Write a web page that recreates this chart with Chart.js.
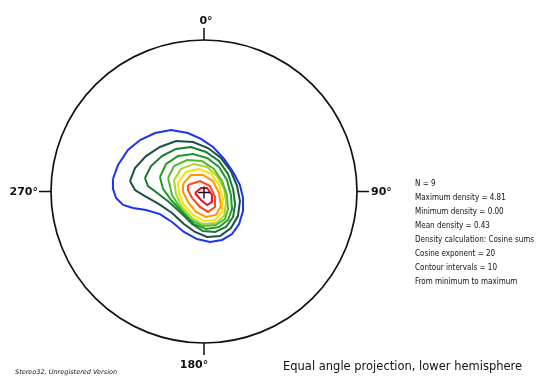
<!DOCTYPE html>
<html>
<head>
<meta charset="utf-8">
<script src="https://cdn.jsdelivr.net/npm/chart.js@4"></script>
<style>
  html, body { margin: 0; padding: 0; background: #fff; }
  #wrap { width: 557px; height: 381px; }
</style>
</head>
<body>
<div id="wrap"><canvas id="net" width="557" height="381"></canvas></div>
<script>
// contour lines, in percent of the net radius (x = east, y = north)
const contour1 = [[-59.5,8.3],[-56.2,17.5],[-49.7,27.4],[-41.8,34.0],[-32.0,38.6],[-21.6,40.6],[-10.5,38.6],[-2.0,34.7],[5.9,29.4],[13.1,21.5],[19.0,12.9],[23.5,4.3],[25.5,-4.3],[25.5,-12.9],[22.9,-21.5],[18.3,-28.1],[11.8,-32.0],[3.9,-33.3],[-4.6,-31.4],[-13.1,-26.7],[-20.9,-20.1],[-28.8,-14.9],[-37.9,-12.2],[-46.4,-10.9],[-52.9,-8.9],[-57.5,-4.3],[-59.5,1.7]];
const contour2 = [[-48.4,6.9],[-45.1,15.5],[-37.9,23.4],[-28.8,29.4],[-18.3,33.3],[-7.2,32.7],[2.6,28.7],[11.1,22.1],[17.6,13.5],[21.6,3.6],[23.5,-6.3],[22.2,-16.2],[17.6,-24.1],[10.5,-29.4],[2.0,-30.0],[-5.9,-26.7],[-13.1,-21.5],[-20.9,-14.2],[-29.4,-8.3],[-38.6,-3.0],[-45.1,1.0]];
const contour3 = [[-38.6,8.9],[-34.6,16.8],[-27.5,23.4],[-18.3,28.1],[-8.5,29.4],[1.3,26.1],[9.8,20.1],[15.7,11.6],[19.0,1.7],[20.3,-8.3],[19.0,-16.8],[14.4,-23.4],[7.2,-26.7],[-0.7,-26.1],[-7.8,-21.5],[-15.0,-14.2],[-22.9,-6.9],[-31.4,-0.3],[-36.6,3.6]];
const contour4 = [[-28.8,9.6],[-24.8,18.2],[-17.0,23.4],[-7.2,24.8],[2.0,22.1],[9.8,16.2],[15.0,7.6],[17.6,-2.3],[18.3,-11.6],[15.7,-18.8],[9.8,-23.4],[1.3,-24.8],[-6.5,-21.5],[-13.7,-14.2],[-20.9,-6.3],[-26.8,1.7]];
const contour5 = [[-23.5,8.9],[-19.6,16.8],[-11.1,20.8],[-1.3,20.1],[6.5,14.9],[11.8,6.9],[15.0,-2.3],[15.7,-11.6],[13.7,-18.2],[7.8,-22.1],[-0.7,-22.8],[-8.5,-18.8],[-15.0,-11.6],[-20.9,-2.3]];
const contour6 = [[-19.6,7.6],[-15.0,14.9],[-6.5,18.2],[2.0,16.2],[8.5,10.2],[13.1,1.7],[14.4,-7.6],[13.1,-16.2],[7.8,-20.8],[-0.7,-21.5],[-7.8,-17.5],[-14.4,-10.2],[-18.3,-1.7]];
const contour7 = [[-17.0,5.6],[-11.8,12.9],[-3.3,14.9],[4.6,11.6],[9.8,4.3],[12.4,-5.0],[11.8,-13.5],[7.2,-18.8],[0.0,-19.5],[-7.2,-15.5],[-13.1,-8.9],[-16.3,-1.7]];
const contour8 = [[-13.7,5.0],[-8.5,10.9],[-0.7,10.9],[5.9,6.9],[9.8,-1.0],[11.1,-9.6],[7.8,-15.5],[1.3,-16.8],[-5.2,-13.5],[-10.5,-6.9],[-13.7,-0.3]];
const contour9 = [[-10.5,4.3],[-2.6,6.9],[3.9,3.6],[7.2,-3.6],[7.2,-10.2],[2.6,-13.5],[-2.6,-10.2],[-7.8,-4.3],[-10.5,1.0]];
const contour10 = [[-5.9,-1.0],[-2.0,2.3],[2.0,2.3],[5.2,-2.3],[5.2,-6.9],[2.0,-8.9],[-2.0,-5.6]];

const contours = [contour1, contour2, contour3, contour4, contour5, contour6, contour7, contour8, contour9, contour10];
const contourColors = ['#1a34f0', '#1d4f47', '#177a2e', '#23982a', '#4fba2b', '#a9d62c', '#f6e200', '#ff9800', '#ff4418', '#e0122c'];

const directionLabels = ['0°', '90°', '180°', '270°'];
const statLines = [
    'N = 9',
    'Maximum density = 4.81',
    'Minimum density = 0.00',
    'Mean density = 0.43',
    'Density calculation: Cosine sums',
    'Cosine exponent = 20',
    'Contour intervals = 10',
    'From minimum to maximum'
];
const projectionText = 'Equal angle projection, lower hemisphere';
const versionText = 'Stereo32, Unregistered Version';

// primitive circle, N/E/S/W ticks, centre cross and the text block
const stereonetFrame = {
    id: 'stereonetFrame',
    afterDatasetsDraw(chart) {
        const ctx = chart.ctx;
        const xs = chart.scales.x, ys = chart.scales.y;
        const cx = xs.getPixelForValue(0), cy = ys.getPixelForValue(0);
        const rx = xs.getPixelForValue(100) - cx;
        const ry = cy - ys.getPixelForValue(100);
        ctx.save();
        ctx.strokeStyle = '#111';
        ctx.lineWidth = 1.7;
        ctx.beginPath();
        ctx.ellipse(cx, cy, rx, ry, 0, 0, Math.PI * 2);
        ctx.stroke();

        const tick = 12;
        ctx.lineWidth = 1.5;
        ctx.beginPath();
        ctx.moveTo(cx, cy - ry); ctx.lineTo(cx, cy - ry - tick);
        ctx.moveTo(cx + rx, cy); ctx.lineTo(cx + rx + tick, cy);
        ctx.moveTo(cx, cy + ry); ctx.lineTo(cx, cy + ry + tick);
        ctx.moveTo(cx - rx, cy); ctx.lineTo(cx - rx - tick, cy);
        ctx.stroke();

        // centre cross
        ctx.lineWidth = 1.4;
        ctx.beginPath();
        ctx.moveTo(cx - 6, cy + 1); ctx.lineTo(cx + 6, cy + 1);
        ctx.moveTo(cx, cy - 5); ctx.lineTo(cx, cy + 7);
        ctx.stroke();

        ctx.fillStyle = '#111';
        ctx.font = 'bold 11px "DejaVu Sans"';
        ctx.textBaseline = 'middle';
        ctx.textAlign = 'center';
        ctx.fillText(directionLabels[0], cx + 2, cy - ry - tick - 7);
        ctx.fillText(directionLabels[2], cx - 10, cy + ry + tick + 10);
        ctx.textAlign = 'left';
        ctx.fillText(directionLabels[1], cx + rx + tick + 2, cy + 1);
        ctx.textAlign = 'right';
        ctx.fillText(directionLabels[3], cx - rx - tick - 1, cy + 1);

        ctx.textAlign = 'left';
        ctx.font = '8px "DejaVu Sans Condensed", "DejaVu Sans"';
        statLines.forEach((line, i) => ctx.fillText(line, 415, 184 + i * 14));

        ctx.font = '11.5px "DejaVu Sans"';
        ctx.fillText(projectionText, 283, 367);

        ctx.font = 'italic 6.5px "DejaVu Sans"';
        ctx.fillText(versionText, 15, 372);
        ctx.restore();
    }
};

const datasets = contours.map((pts, i) => ({
    data: pts.concat([pts[0]]).map(p => ({ x: p[0], y: p[1] })),
    borderColor: contourColors[i],
    borderWidth: 2,
    showLine: true,
    fill: false,
    tension: 0,
    pointRadius: 0
}));

new Chart(document.getElementById('net').getContext('2d'), {
    type: 'scatter',
    data: { datasets: datasets },
    options: {
        responsive: false,
        devicePixelRatio: 1,
        animation: false,
        layout: { padding: { left: 51, right: 200, top: 40, bottom: 38 } },
        plugins: { legend: { display: false }, tooltip: { enabled: false } },
        scales: {
            x: { type: 'linear', min: -100, max: 100, display: false },
            y: { type: 'linear', min: -100, max: 100, display: false }
        }
    },
    plugins: [stereonetFrame]
});
</script>
</body>
</html>
